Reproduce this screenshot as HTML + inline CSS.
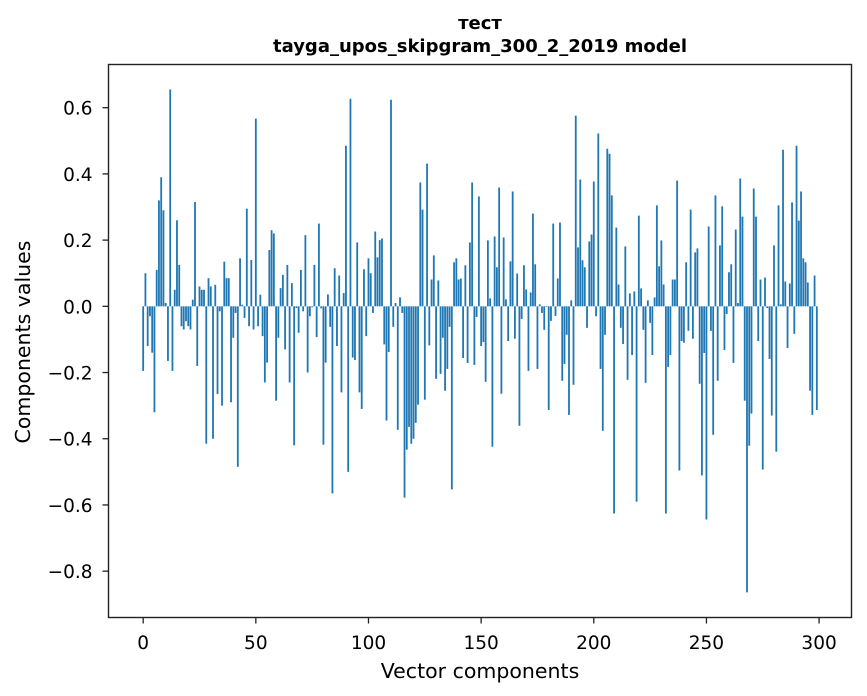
<!DOCTYPE html>
<html><head><meta charset="utf-8">
<style>
body{margin:0;background:#fff;}
svg{display:block;font-family:"DejaVu Sans","Liberation Sans",sans-serif;}
</style></head>
<body>
<svg id="chart" width="867" height="696" viewBox="0 0 867 696" xmlns="http://www.w3.org/2000/svg">
<rect width="867" height="696" fill="#fff"/>
<text x="480" y="29" text-anchor="middle" font-size="18" font-weight="bold">тест</text>
<text x="480" y="52" text-anchor="middle" font-size="18" font-weight="bold">tayga_upos_skipgram_300_2_2019 model</text>
<g id="bars"></g>
<g id="axes"></g>
<rect x="108.5" y="64.5" width="743" height="553" fill="none" stroke="#222" stroke-width="1.4"/>
<text x="480" y="678" text-anchor="middle" font-size="20.5">Vector components</text>
<text transform="translate(30,342) rotate(-90)" text-anchor="middle" font-size="20.5">Components values</text>
</svg>
<script>
const values = [
-0.195,0.10,-0.12,-0.03,-0.14,-0.32,0.11,0.32,0.39,0.29,
0.01,-0.165,0.655,-0.195,0.05,0.26,0.125,-0.06,-0.07,-0.045,
-0.06,-0.07,0.02,0.315,-0.18,0.06,0.05,0.05,-0.415,0.085,
0.06,-0.40,0.065,-0.265,-0.015,-0.30,0.135,0.085,0.085,-0.29,
-0.095,-0.02,-0.485,0.145,0.005,-0.035,0.295,-0.06,0.14,
-0.07,0.567,-0.06,0.035,-0.09,-0.23,-0.17,0.17,0.23,0.22,
-0.285,-0.095,0.055,0.095,-0.13,0.125,-0.23,0.07,-0.42,-0.005,
-0.08,0.11,-0.015,0.215,-0.20,-0.03,-0.003,0.125,-0.093,0.25,
-0.006,-0.418,-0.17,0.036,-0.062,-0.565,0.115,-0.12,0.093,-0.26,
0.04,0.485,-0.50,0.627,-0.155,-0.162,0.193,-0.26,-0.31,0.112,
-0.09,0.145,
0.10,-0.02,0.226,0.148,0.20,0.205,-0.115,-0.345,-0.138,0.624,
-0.062,0.01,-0.373,0.027,-0.02,-0.578,-0.433,-0.364,-0.415,-0.40,
-0.352,-0.297,0.374,0.292,-0.282,0.431,-0.118,0.081,0.154,-0.219,
0.078,-0.204,-0.095,-0.255,-0.189,-0.062,-0.553,0.133,0.145,0.081,
0.084,-0.156,0.124,-0.171,0.193,0.374,-0.177,-0.032,0.332,
-0.12,-0.108,-0.228,0.199,0.024,-0.424,0.211,0.118,0.359,-0.264,
0.208,0.021,-0.105,0.136,0.347,-0.098,0.099,-0.361,-0.038,0.124,
0.051,-0.195,0.042,0.28,0.127,-0.189,0.006,-0.02,-0.071,-0.002,
-0.313,-0.044,0.25,-0.029,0.084,0.253,-0.225,-0.174,-0.086,-0.328,
0.018,-0.237,0.576,0.178,0.383,0.139,0.118,-0.065,0.196,0.217,
0.377,-0.03,0.522,-0.189,-0.376,-0.086,0.476,0.461,0.335,-0.626,
0.238,0.066,-0.065,-0.114,0.181,-0.222,0.039,-0.147,0.045,-0.59,
0.274,0.054,-0.071,-0.231,0.018,-0.05,-0.147,0.027,0.305,0.121,
0.199,0.066,-0.626,-0.183,-0.147,0.081,0.081,0.38,-0.496,-0.105,
-0.11,0.133,-0.074,0.292,-0.098,0.163,0.175,-0.234,-0.511,-0.141,
-0.644,0.241,-0.074,-0.388,0.335,-0.225,0.184,0.302,-0.132,-0.023,
0.103,0.127,-0.171,0.232,0.01,0.386,0.271,-0.285,-0.864,-0.421,
-0.324,0.356,0.271,-0.105,0.081,-0.493,0.087,-0.005,-0.159,-0.33,
0.184,-0.439,0.305,0.006,0.473,0.075,-0.126,0.069,0.314,-0.083,
0.485,0.259,0.347,0.145,0.133,0.072,-0.255,-0.328,0.093,-0.313
];
const xTicks = [0,50,100,150,200,250,300];
const yTicks = [-0.8,-0.6,-0.4,-0.2,0.0,0.2,0.4,0.6];
const yTickLabels = ["\u22120.8","\u22120.6","\u22120.4","\u22120.2","0.0","0.2","0.4","0.6"];

const L=108.5, R=851.5, T=64.5, B=617.5;
const xMin=-15.39, xMax=314.39, yMin=-0.94, yMax=0.7305;
function xs(v){return L+(v-xMin)/(xMax-xMin)*(R-L);}
function ys(v){return B-(v-yMin)/(yMax-yMin)*(B-T);}
const NS="http://www.w3.org/2000/svg";
const gb=document.getElementById('bars');
values.forEach(function(v,i){
  const r=document.createElementNS(NS,'rect');
  const x0=xs(i-0.4), x1=xs(i+0.4);
  const y0=ys(Math.max(v,0)), y1=ys(Math.min(v,0));
  r.setAttribute('x',x0);r.setAttribute('width',x1-x0);
  r.setAttribute('y',y0);r.setAttribute('height',Math.max(y1-y0,0.3));
  r.setAttribute('fill','#1f77b4');
  
  
  gb.appendChild(r);
});
const ga=document.getElementById('axes');
xTicks.forEach(function(t){
  const x=xs(t);
  const l=document.createElementNS(NS,'line');
  l.setAttribute('x1',x);l.setAttribute('x2',x);l.setAttribute('y1',B);l.setAttribute('y2',B+6);
  l.setAttribute('stroke','#222');l.setAttribute('stroke-width','1.3');
  
  
  ga.appendChild(l);
  const tx=document.createElementNS(NS,'text');
  tx.setAttribute('x',x);tx.setAttribute('y',649);tx.setAttribute('text-anchor','middle');tx.setAttribute('font-size','18.5');
  tx.textContent=String(t);
  
  
  ga.appendChild(tx);
});
yTicks.forEach(function(t,i){
  const y=ys(t);
  const l=document.createElementNS(NS,'line');
  l.setAttribute('x1',L-6);l.setAttribute('x2',L);l.setAttribute('y1',y);l.setAttribute('y2',y);
  l.setAttribute('stroke','#222');l.setAttribute('stroke-width','1.3');
  
  
  ga.appendChild(l);
  const tx=document.createElementNS(NS,'text');
  tx.setAttribute('x',L-16);tx.setAttribute('y',y+7);tx.setAttribute('text-anchor','end');tx.setAttribute('font-size','18.5');
  tx.textContent=yTickLabels[i];
  
  
  ga.appendChild(tx);
});
</script>
</body></html>
